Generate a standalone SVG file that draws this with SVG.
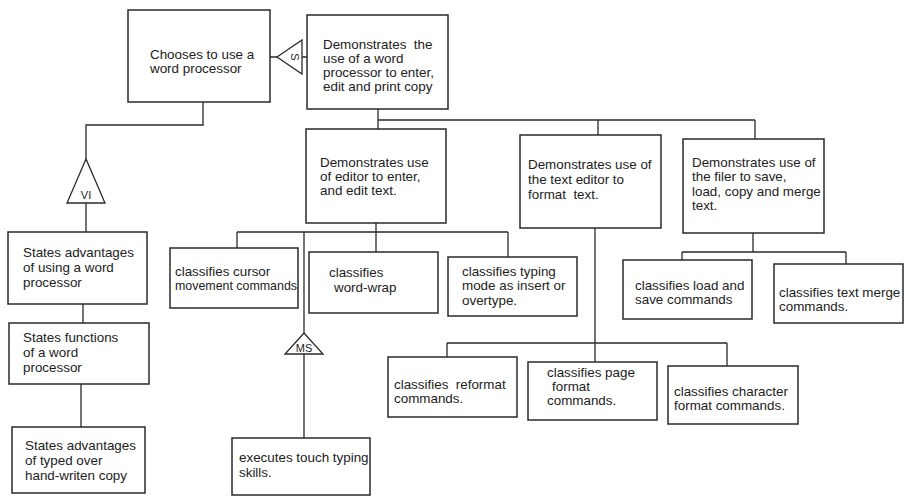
<svg xmlns="http://www.w3.org/2000/svg" width="908" height="497" viewBox="0 0 908 497">
<style>
.box{fill:#fff;stroke:#2a2a2a;stroke-width:1.5}
.ln{fill:none;stroke:#2a2a2a;stroke-width:1.3}
.tri{fill:#fff;stroke:#2a2a2a;stroke-width:1.3}
text{font-family:"Liberation Sans",Arial,sans-serif;font-size:13.4px;fill:#222;white-space:pre}
.sm{font-size:11px}
</style>
<rect width="908" height="497" fill="#fff"/>
<g id="connectors">
<path class="ln" d="M203 102V125H86V159M86 203V232"/>
<path class="ln" d="M270 57H277M302 57H307"/>
<path class="ln" d="M378 109V129M378 120H755M598 120V135M755 120V139"/>
<path class="ln" d="M83 304V323M81 384V427"/>
<path class="ln" d="M376 223V252M237 232H508M237 232V248M508 232V257M304 232V333M304 354V438"/>
<path class="ln" d="M595 228V362M447 343H727M447 343V357M727 343V366"/>
<path class="ln" d="M753 233V252M682 252H846M682 252V260M846 252V264"/>
</g>
<g id="tri-s"><polygon class="tri" points="277,57 302,40 302,74"/><text x="0" y="0" class="sm" text-anchor="middle" transform="translate(295,57) rotate(90)" dy="4">S</text></g>
<g id="tri-vi"><polygon class="tri" points="86,159 67,203 105,203"/><text x="86" y="199" class="sm" text-anchor="middle">VI</text></g>
<g id="tri-ms"><polygon class="tri" points="304,333 285,354 323,354"/><text x="304" y="352" class="sm" text-anchor="middle">MS</text></g>
<g id="n1"><rect class="box" x="128" y="10" width="142" height="92"/><text x="150" y="59">Chooses to use a</text><text x="150" y="73">word processor</text></g>
<g id="n2"><rect class="box" x="307" y="15" width="141" height="94"/><text x="323" y="49" xml:space="preserve">Demonstrates  the</text><text x="323" y="63">use of a word</text><text x="323" y="77">processor to enter,</text><text x="323" y="91">edit and print copy</text></g>
<g id="n3"><rect class="box" x="306" y="129" width="140" height="94"/><text x="320" y="167">Demonstrates use</text><text x="320" y="181">of editor to enter,</text><text x="320" y="195">and edit text.</text></g>
<g id="n4"><rect class="box" x="520" y="135" width="141" height="93"/><text x="528" y="169">Demonstrates use of</text><text x="528" y="184">the text editor to</text><text x="528" y="199" xml:space="preserve">format  text.</text></g>
<g id="n5"><rect class="box" x="683" y="139" width="141" height="94"/><text x="692" y="167">Demonstrates use of</text><text x="692" y="181">the filer to save,</text><text x="692" y="196">load, copy and merge</text><text x="692" y="210">text.</text></g>
<g id="n6"><rect class="box" x="8" y="232" width="139" height="72"/><text x="23" y="257">States advantages</text><text x="23" y="272">of using a word</text><text x="23" y="287">processor</text></g>
<g id="n7"><rect class="box" x="9" y="323" width="140" height="61"/><text x="23" y="342">States functions</text><text x="23" y="357">of a word</text><text x="23" y="372">processor</text></g>
<g id="n8"><rect class="box" x="12" y="427" width="133" height="66"/><text x="25" y="450">States advantages</text><text x="25" y="465">of typed over</text><text x="25" y="480">hand-writen copy</text></g>
<g id="n9"><rect class="box" x="170" y="248" width="128" height="60"/><text x="175" y="276">classifies cursor</text><text x="175" y="290" textLength="122" lengthAdjust="spacingAndGlyphs">movement commands</text></g>
<g id="n10"><rect class="box" x="309" y="252" width="129" height="61"/><text x="329" y="277">classifies</text><text x="334" y="292">word-wrap</text></g>
<g id="n11"><rect class="box" x="448" y="257" width="129" height="59"/><text x="462" y="276">classifies typing</text><text x="462" y="290">mode as insert or</text><text x="462" y="305">overtype.</text></g>
<g id="n12"><rect class="box" x="623" y="260" width="129" height="59"/><text x="635" y="290">classifies load and</text><text x="635" y="304">save commands</text></g>
<g id="n13"><rect class="box" x="774" y="264" width="129" height="59"/><text x="779" y="297">classifies text merge</text><text x="779" y="311">commands.</text></g>
<g id="n14"><rect class="box" x="232" y="438" width="138" height="57"/><text x="239" y="462">executes touch typing</text><text x="239" y="477">skills.</text></g>
<g id="n15"><rect class="box" x="388" y="357" width="129" height="60"/><text x="394" y="389" xml:space="preserve">classifies  reformat</text><text x="394" y="403">commands.</text></g>
<g id="n16"><rect class="box" x="528" y="362" width="129" height="58"/><text x="547" y="377">classifies page</text><text x="552" y="391">format</text><text x="547" y="405">commands.</text></g>
<g id="n17"><rect class="box" x="668" y="366" width="130" height="58"/><text x="674" y="396">classifies character</text><text x="674" y="410">format commands.</text></g>
</svg>
